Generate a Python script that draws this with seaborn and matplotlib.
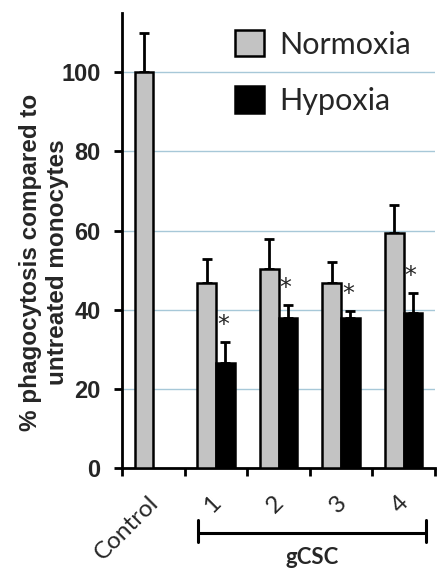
import numpy as np
import pandas as pd
import matplotlib
matplotlib.use("Agg")
import matplotlib.pyplot as plt
import matplotlib.transforms as mtransforms
from matplotlib.patches import Patch
import seaborn as sns

# ---- data ----
categories = ["Control", "1", "2", "3", "4"]
conditions = ["Normoxia", "Hypoxia"]
normoxia = [100.0, 46.8, 50.2, 46.8, 59.5]
normoxia_err = [10.0, 6.0, 7.6, 5.2, 6.9]
hypoxia = [np.nan, 26.6, 38.0, 37.8, 39.3]
hypoxia_err = [np.nan, 5.2, 3.3, 1.9, 5.0]
significant = [False, True, True, True, True]
y_ticks = [0, 20, 40, 60, 80, 100]

df = pd.DataFrame({
    "category": categories * 2,
    "condition": ["Normoxia"] * 5 + ["Hypoxia"] * 5,
    "value": normoxia + hypoxia,
})

sns.set_theme(style="white")
plt.rcParams["font.family"] = ["Liberation Sans", "DejaVu Sans"]

fig = plt.figure(figsize=(4.38, 5.68), dpi=100)
ax = fig.add_axes([122 / 438, 1 - 468 / 568, (435 - 122) / 438, (468 - 13) / 568])

palette = {"Normoxia": "#c3c3c3", "Hypoxia": "#000000"}
sns.barplot(data=df, x="category", y="value", hue="condition", order=categories,
            hue_order=conditions, palette=palette, width=0.6, gap=0,
            edgecolor="black", linewidth=1.8, errorbar=None, legend=False,
            saturation=1, ax=ax, zorder=3)

# error bars (upper only) from bar geometry
errs = {"Normoxia": normoxia_err, "Hypoxia": hypoxia_err}
for cont, cond in zip(ax.containers, conditions):
    e = errs[cond]
    for bar in cont:
        h = bar.get_height()
        xc = bar.get_x() + bar.get_width() / 2
        i = int(round(xc))
        if np.isnan(h) or np.isnan(e[i]):
            continue
        ax.errorbar(xc, h, yerr=[[0], [e[i]]], fmt="none", ecolor="black",
                    elinewidth=2, capsize=3.6, capthick=2, zorder=2)
        if cond == "Hypoxia" and significant[i]:
            ax.text(xc - 0.04, h + e[i] + 4.3, "*", ha="center", va="center",
                    fontsize=17, family=["DejaVu Sans"], zorder=4)

ax.set_ylim(0, 115)
ax.set_xlim(-0.5, 4.5)
ax.set_yticks(y_ticks)
ax.set_yticklabels([str(t) for t in y_ticks], fontsize=17, fontweight="bold")
for t in y_ticks[1:]:
    ax.axhline(t, color="#a7c8d8", lw=1, zorder=0)

ax.set_xticks(range(len(categories)))
ax.set_xticklabels(categories, rotation=45, ha="right", rotation_mode="anchor",
                   fontsize=17.5, family=["Lato", "DejaVu Sans"])
ax.set_xticks(np.arange(-0.5, 5, 1), minor=True)
ax.tick_params(axis="x", which="major", length=0, pad=17)
ax.tick_params(axis="x", which="minor", length=6, width=2, direction="out", color="black")
ax.tick_params(axis="y", which="major", length=5.5, width=2, direction="out", color="black", pad=10)
ax.xaxis.set_tick_params(bottom=True, which="minor")
ax.yaxis.set_tick_params(left=True)

for s in ["top", "right"]:
    ax.spines[s].set_visible(False)
for s in ["left", "bottom"]:
    ax.spines[s].set_color("black")
    ax.spines[s].set_linewidth(2)

ax.set_xlabel("")
ax.set_ylabel("% phagocytosis compared to\nuntreated monocytes", fontsize=17.5,
              fontweight="bold")
ax.yaxis.label.set_va("center")
ax.yaxis.set_label_coords((44 - 122) / 313, (468 - 262) / 455)

# legend
handles = [Patch(facecolor=palette[c], edgecolor="black", linewidth=1.8, label=c) for c in conditions]
leg = ax.legend(handles=handles, loc="upper left",
                bbox_to_anchor=((235 - 122) / 313, (468 - 30) / 455), frameon=False,
                prop={"family": ["Lato", "DejaVu Sans"], "size": 22},
                handlelength=0.95, handleheight=0.95, handletextpad=0.5, labelspacing=0.9,
                borderaxespad=0, borderpad=0)

# gCSC bracket (figure coords)
y_line = 1 - 533 / 568
fig.add_artist(plt.Line2D([198 / 438, 426 / 438], [y_line, y_line], color="black", lw=2.2))
for xp in (198, 426):
    fig.add_artist(plt.Line2D([xp / 438, xp / 438], [1 - 520 / 568, 1 - 542 / 568], color="black", lw=2.2))
fig.text(312 / 438, 1 - 564 / 568, "gCSC", ha="center", va="baseline", fontsize=16,
         fontweight="bold", family=["Lato", "DejaVu Sans"])

# small leftward nudge of x tick labels (after all tick_params calls)
shift = mtransforms.ScaledTranslation(-4 / 72, 0, fig.dpi_scale_trans)
for lbl in ax.get_xticklabels():
    lbl.set_transform(lbl.get_transform() + shift)

fig.savefig("out.png", dpi=100, facecolor="white")
